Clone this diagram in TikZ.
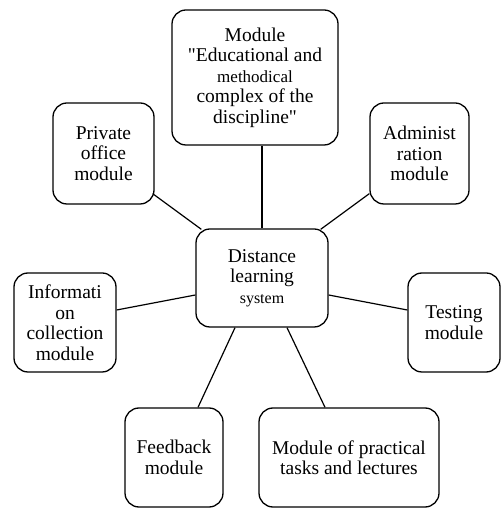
\documentclass[tikz,border=0pt]{standalone}
\usepackage{fontspec}
\setmainfont{Liberation Serif}[Ligatures=TeXOff]
\usetikzlibrary{calc}
\begin{document}
\begin{tikzpicture}[x=1pt,y=1pt,
  box/.style={draw, line width=1.3pt, rounded corners=14pt, align=center, inner sep=2pt,
    font=\fontsize{19.5}{20.5}\selectfont},
  link/.style={draw, line width=1.2pt}]
\useasboundingbox (0,0) rectangle (503,508);
% y_tikz = 508 - y_px
\node[box, minimum width=166pt, minimum height=135pt] (top) at (255,430.5)
  {Module\\ "Educational and\\ {\fontsize{17}{20.5}\selectfont methodical}\\ complex of the\\ discipline"};
\node[box, minimum width=101pt, minimum height=101pt] (priv) at (103.5,354.5)
  {Private\\ office\\ module};
\node[box, minimum width=99pt, minimum height=101pt] (admin) at (419.5,354.5)
  {Administ\\ ration\\ module};
\node[box, minimum width=132pt, minimum height=98pt] (cen) at (262,230)
  {Distance\\ learning\\ {\fontsize{16}{20.5}\selectfont system}};
\node[box, minimum width=102pt, minimum height=99pt] (info) at (65,185.5)
  {Informati\\ on\\ collection\\ module};
\node[box, minimum width=92pt, minimum height=99pt] (test) at (454,185.5)
  {Testing\\ module};
\node[box, minimum width=98pt, minimum height=99pt] (feed) at (174,50.5)
  {Feedback\\ module};
\node[box, minimum width=180pt, minimum height=99pt] (prac) at (349,50.5)
  {Module of practical\\ tasks and lectures};
% connectors
\draw[link] (cen.north) -- (cen.north |- top.south);
\draw[link] ($(priv.south east)+(-2,11)$) -- ($(cen.north west)+(6,-1)$);
\draw[link] ($(admin.south west)+(0,11)$) -- ($(cen.north east)+(-8,-1)$);
\draw[link] ($(info.east)+(0,12.5)$) -- ($(cen.west)+(0,-17)$);
\draw[link] ($(cen.east)+(0,-17)$) -- ($(test.west)+(0,12.5)$);
\draw[link] ($(cen.south)+(-27,0)$) -- ($(feed.north)+(24,0)$);
\draw[link] ($(cen.south)+(25,0)$) -- ($(prac.north)+(-24,0)$);
\end{tikzpicture}
\end{document}
